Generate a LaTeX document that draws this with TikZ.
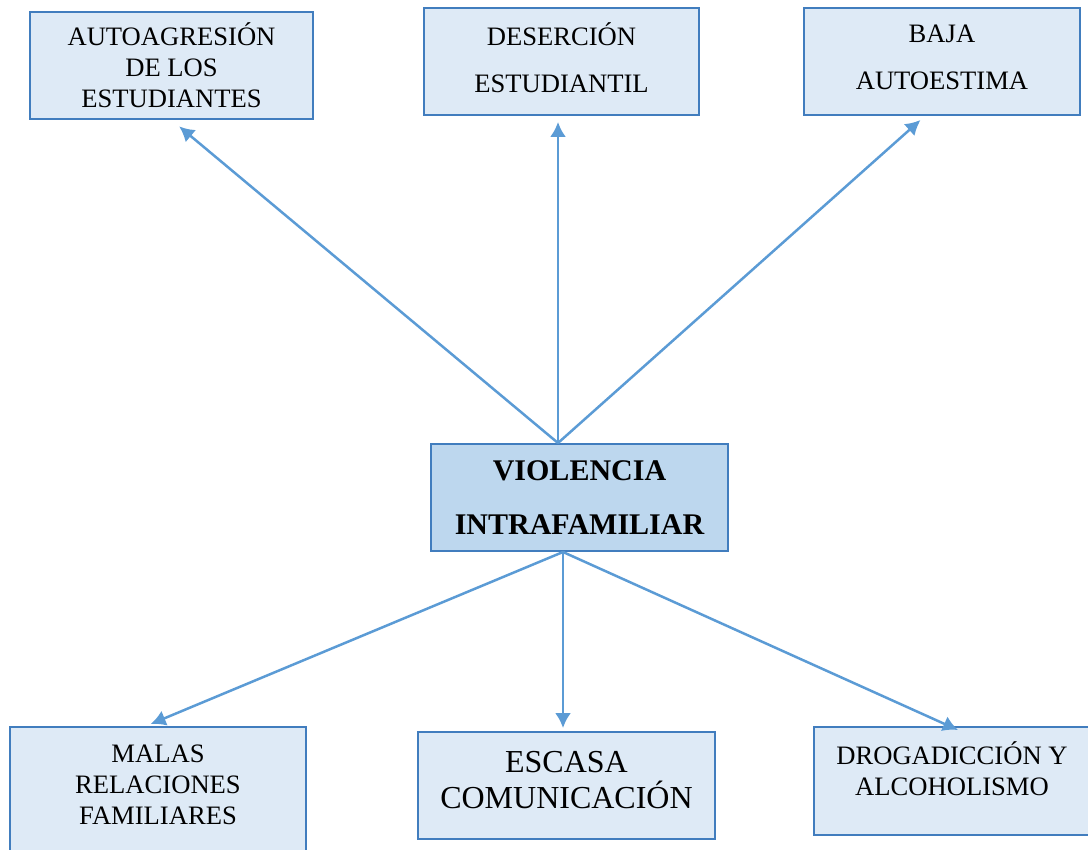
\documentclass[tikz,border=0pt]{standalone}
\usepackage{fontspec}
\setmainfont{Liberation Serif}
\usetikzlibrary{arrows.meta,calc,positioning}
\definecolor{boxline}{RGB}{65,125,190}
\definecolor{boxfill}{RGB}{222,234,246}
\definecolor{mainfill}{RGB}{189,215,238}
\definecolor{arrowblue}{RGB}{91,155,213}
\tikzset{>={Latex[length=7.5pt,width=8pt]}}
\tikzset{
  cajon/.style={draw=boxline, fill=boxfill, line width=1pt, inner sep=0pt, align=center, font=\fontsize{13.3}{15.5}\selectfont},
  rotulo/.style={anchor=north, inner sep=0pt, align=center, font=\fontsize{13.3}{15.5}\selectfont},
  flecha/.style={->, draw=arrowblue, line width=1.25pt}
}

\begin{document}
\begin{tikzpicture}[x=0.5pt,y=-0.5pt]
            \useasboundingbox (0,0) rectangle (1088,850);
            \clip (0,0) rectangle (1088,850);

            % efectos
            \node[cajon, minimum width=141.5pt, minimum height=53.5pt] (autoagresion) at (171.5,65.5) {AUTOAGRESIÓN\\DE LOS\\ESTUDIANTES};
            \node[cajon, minimum width=137.5pt, minimum height=53.5pt,
                  label={[rotulo, font=\fontsize{13.3}{23.5}\selectfont, yshift=-7.5pt]north:{DESERCIÓN\\ESTUDIANTIL}}] (desercion) at (561.5,61.5) {};
            \node[cajon, minimum width=138pt, minimum height=53.5pt,
                  label={[rotulo, font=\fontsize{13.3}{23.5}\selectfont, yshift=-9pt]north:{BAJA\\AUTOESTIMA}}] (autoestima) at (942,61.5) {};

            % problema
            \node[cajon, fill=mainfill, minimum width=148.5pt, minimum height=53.5pt, font=\fontsize{15}{27}\selectfont\bfseries] (violencia) at (579.5,497.5) {VIOLENCIA\\INTRAFAMILIAR};

            % causas
            \node[cajon, minimum width=148pt, minimum height=76.5pt,
                  label={[rotulo, yshift=-9pt]north:{MALAS\\RELACIONES\\FAMILIARES}}] (malas) at (158,803.5) {};
            \node[cajon, minimum width=148.5pt, minimum height=53.5pt,
                  label={[rotulo, font=\fontsize{16}{18}\selectfont, yshift=-10pt]north:{ESCASA\\COMUNICACIÓN}}] (escasa) at (566.5,785.5) {};
            \node[cajon, minimum width=138pt, minimum height=54pt,
                  label={[rotulo, yshift=-7.5pt]north:{DROGADICCIÓN Y\\ALCOHOLISMO}}] (drogas) at (952,781) {};

            \draw[flecha, shorten >=5pt] ([xshift=-10.75pt]violencia.north) -- (autoagresion.south);
            \draw[flecha, shorten >=3pt] ([xshift=-10.75pt]violencia.north) -- ([xshift=-1.75pt]desercion.south);
            \draw[flecha, shorten >=3pt] ([xshift=-10.75pt]violencia.north) -- ($(autoestima.south)+(-17,0)$);

            \draw[flecha, shorten >=2.5pt] ([xshift=-8.25pt]violencia.south) -- ($(malas.north)+(-12,0)$);
            \draw[flecha, shorten >=1.5pt] ([xshift=-8.25pt]violencia.south) -- ([xshift=-1.75pt]escasa.north);
            \draw[flecha] ([xshift=-8.25pt]violencia.south) -- ($(drogas.north)+(6,4)$);
\end{tikzpicture}
\end{document}
